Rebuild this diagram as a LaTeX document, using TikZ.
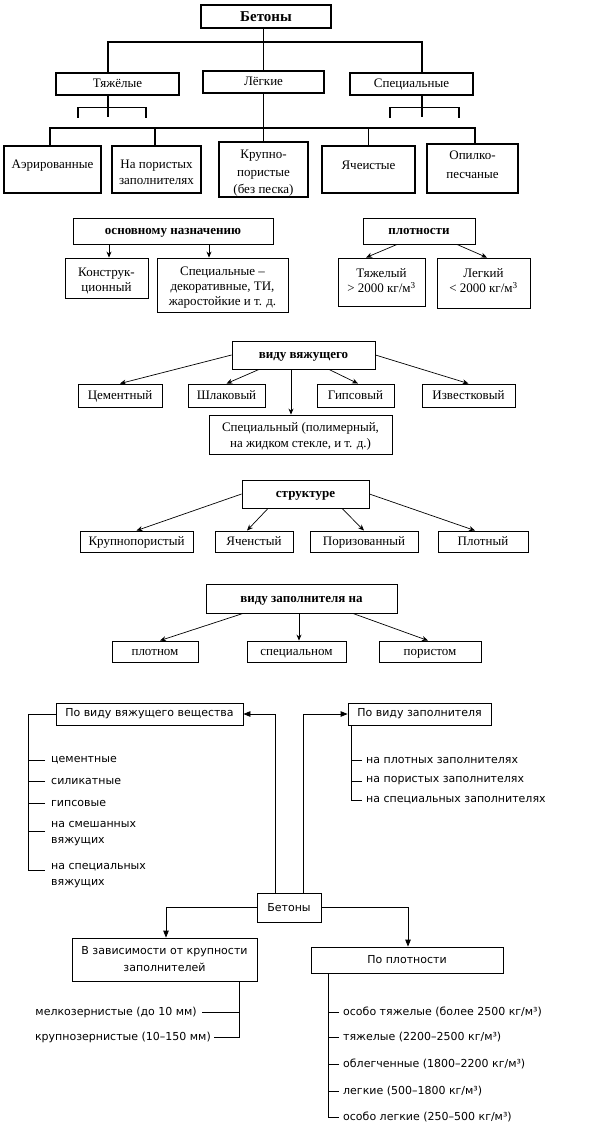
\documentclass[tikz,border=0pt]{standalone}
\usepackage{fontspec}
\setmainfont{Liberation Serif}
\newfontfamily\gost{DejaVu Sans}
\usetikzlibrary{arrows.meta}
\tikzset{
  box/.style={draw, line width=0.9pt, inner sep=0pt, align=center, font=\fontsize{13}{15}\selectfont},
  tbox/.style={draw, line width=1.1pt, inner sep=0pt},
  one/.style={text height=7.5pt, text depth=0pt},
  txt/.style={inner sep=0pt, align=center, font=\fontsize{13}{17}\selectfont},
  hbox/.style={box, font=\bfseries\fontsize{13}{15}\selectfont},
  gbox/.style={draw, line width=0.8pt, inner sep=0pt, align=center, font=\gost\fontsize{11}{17}\selectfont},
  item/.style={inner sep=0pt, align=left, font=\gost\fontsize{11}{16}\selectfont},
  ln/.style={line width=1.1pt},
  gln/.style={line width=0.8pt},
  arr/.style={line width=0.7pt, -{Stealth[length=6pt,width=5pt]}},
  garr/.style={line width=0.8pt, -{Triangle[length=7pt,width=5.5pt]}},
}
\begin{document}
\begin{tikzpicture}[x=1pt,y=-1pt]
\fill[white] (0,0) rectangle (598,1130);
\useasboundingbox (0,0) rectangle (598,1130);

% ---------- section 1 ----------
\node[tbox, font=\bfseries\fontsize{15}{17}\selectfont, text height=10pt, text depth=0pt, minimum width=130pt, minimum height=23pt] (b0) at (266,16.5) {Бетоны};
\node[tbox, one, font=\fontsize{13}{15}\selectfont, minimum width=123pt, minimum height=22pt] (t1) at (117.5,84) {Тяжёлые};
\node[tbox, one, font=\fontsize{13}{15}\selectfont, minimum width=121pt, minimum height=22pt] (t2) at (263.5,82) {Лёгкие};
\node[tbox, one, font=\fontsize{13}{15}\selectfont, minimum width=123pt, minimum height=22pt] (t3) at (411.5,84) {Специальные};

\node[tbox, minimum width=97pt, minimum height=47pt] (k1) at (52.5,169.5) {};
\node[tbox, minimum width=89pt, minimum height=47pt] (k2) at (156.5,169.5) {};
\node[tbox, minimum width=89pt, minimum height=55pt] (k3) at (263.5,169.5) {};
\node[tbox, minimum width=93pt, minimum height=47pt] (k4) at (368.5,169.5) {};
\node[tbox, minimum width=91pt, minimum height=49pt] (k5) at (472.5,168.5) {};
\node[txt, one] (k1t) at (52.5,164.5) {Аэрированные};
\node[txt, font=\fontsize{13}{16}\selectfont] (k2t) at (156.5,172) {На пористых\\заполнителях};
\node[txt, font=\fontsize{13}{17.5}\selectfont] (k3t) at (263.5,173.5) {Крупно-\\пористые\\(без песка)};
\node[txt, one] (k4t) at (368.5,166) {Ячеистые};
\node[txt, font=\fontsize{13}{19}\selectfont] (k5t) at (472.5,164.5) {Опилко-\\песчаные};

\coordinate (h1) at (0,42);
\coordinate (h2) at (0,128);
\draw[ln] (b0.south -| t2.north) -- (t2.north);
\draw[ln] ([xshift=-9.5pt]t1.north) |- ([xshift=10.5pt]t3.north |- h1) -- ([xshift=10.5pt]t3.north);
% brackets
\draw[ln] ([xshift=-9.5pt]t1.south) -- ++(0,21);
\draw[ln] ([xshift=-39.5pt]t1.south) ++(0,22) -- ++(0,-10) -- ++(68,0) -- ++(0,10);
\draw[ln] ([xshift=10.5pt]t3.south) -- ++(0,21);
\draw[ln] ([xshift=-21.5pt]t3.south) ++(0,22) -- ++(0,-10) -- ++(69,0) -- ++(0,10);
% light concretes
\draw[ln] (t2.south) -- (k3.north);
\draw[ln] ([xshift=-2.5pt]k1.north) |- ([xshift=2.5pt]k5.north |- h2) -- ([xshift=2.5pt]k5.north);
\draw[ln] ([xshift=-1.5pt]k2.north) -- ([xshift=-1.5pt]k2.north |- h2);
\draw[ln] (k4.north) -- (k4.north |- h2);

% ---------- section 2 ----------
\node[hbox, one, minimum width=200pt, minimum height=26pt] (n1) at (173,231) {основному назначению};
\node[box, minimum width=83pt, minimum height=40pt] (n2) at (106.5,278) {};
\node[txt, font=\fontsize{13}{15}\selectfont] (n2t) at (106.5,280.5) {Конструк-\\ционный};
\node[box, minimum width=131pt, minimum height=54pt] (n3) at (222.5,285) {};
\node[txt, font=\fontsize{13}{15}\selectfont] (n3t) at (222.5,288) {Специальные –\\декоративные, ТИ,\\жаростойкие и т. д.};
\draw[arr] ([xshift=2.5pt]n2.north |- n1.south) -- ([xshift=2.5pt]n2.north);
\draw[arr] ([xshift=-13.5pt]n3.north |- n1.south) -- ([xshift=-13.5pt]n3.north);

\node[hbox, one, minimum width=112pt, minimum height=26pt] (p1) at (419,231) {плотности};
\node[box, minimum width=87pt, minimum height=48pt] (p2) at (381.5,282) {};
\node[txt, font=\fontsize{13}{15}\selectfont] (p2t) at (381.5,280.5) {Тяжелый\\> 2000 кг/м\textsuperscript{3}};
\node[box, minimum width=93pt, minimum height=50pt] (p3) at (483.5,283) {};
\node[txt, font=\fontsize{13}{15}\selectfont] (p3t) at (483.5,281) {Легкий\\< 2000 кг/м\textsuperscript{3}};
\draw[arr] ([xshift=-22pt]p1.south) -- ([xshift=-15.5pt]p2.north);
\draw[arr] ([xshift=38pt]p1.south) -- ([xshift=3.5pt]p3.north);

% ---------- section 3 ----------
\node[hbox, one, minimum width=143pt, minimum height=28pt] (v0) at (303.5,355) {виду вяжущего};
\node[box, one, minimum width=84pt, minimum height=23pt] (v1) at (120,395.5) {Цементный};
\node[box, one, minimum width=77pt, minimum height=23pt] (v2) at (226.5,395.5) {Шлаковый};
\node[box, one, minimum width=77pt, minimum height=23pt] (v3) at (355.5,395.5) {Гипсовый};
\node[box, one, minimum width=93pt, minimum height=23pt] (v4) at (468.5,395.5) {Известковый};
\node[box, minimum width=183pt, minimum height=39pt] (v5) at (300.5,434.5) {};
\node[txt, font=\fontsize{13}{16}\selectfont] (v5t) at (300.5,436.5) {Специальный (полимерный,\\на жидком стекле, и т. д.)};
\draw[arr] (v0.west) -- (v1.north);
\draw[arr] ([xshift=-44.5pt]v0.south) -- (v2.north);
\draw[arr] ([xshift=-12.5pt]v0.south) -- ([xshift=-9.5pt]v5.north);
\draw[arr] ([xshift=25.5pt]v0.south) -- ([xshift=2.5pt]v3.north);
\draw[arr] (v0.east) -- (v4.north);

% ---------- section 4 ----------
\node[hbox, one, minimum width=127pt, minimum height=28pt] (s0) at (305.5,494) {структуре};
\node[box, one, minimum width=113pt, minimum height=21pt] (s1) at (136.5,541.5) {Крупнопористый};
\node[box, one, minimum width=78pt, minimum height=21pt] (s2) at (254,541.5) {Яченстый};
\node[box, one, minimum width=108pt, minimum height=21pt] (s3) at (364,541.5) {Поризованный};
\node[box, one, minimum width=90pt, minimum height=21pt] (s4) at (483,541.5) {Плотный};
\draw[arr] (s0.west) -- (s1.north);
\draw[arr] ([xshift=-37.5pt]s0.south) -- ([xshift=-7pt]s2.north);
\draw[arr] ([xshift=36.5pt]s0.south) -- (s3.north);
\draw[arr] (s0.east) -- ([xshift=-8pt]s4.north);

% ---------- section 5 ----------
\node[hbox, one, minimum width=191pt, minimum height=29pt] (z0) at (301.5,598.5) {виду заполнителя на};
\node[box, one, minimum width=86pt, minimum height=21pt] (z1) at (155,651.5) {плотном};
\node[box, one, minimum width=99pt, minimum height=21pt] (z2) at (296.5,651.5) {специальном};
\node[box, one, minimum width=102pt, minimum height=21pt] (z3) at (430,651.5) {пористом};
\draw[arr] ([xshift=-58.5pt]z0.south) -- ([xshift=5pt]z1.north);
\draw[arr] ([xshift=-2.5pt]z0.south) -- ([xshift=2.5pt]z2.north);
\draw[arr] ([xshift=51.5pt]z0.south) -- ([xshift=-2pt]z3.north);

% ---------- section 6 ----------
\node[gbox, minimum width=187pt, minimum height=22pt] (g1) at (149.5,714) {По виду вяжущего вещества};
\node[gbox, minimum width=143pt, minimum height=22pt] (g2) at (419.5,714) {По виду заполнителя};
\node[gbox, minimum width=64pt, minimum height=29pt] (g0) at (289,907.5) {Бетоны};
\node[gbox, minimum width=185pt, minimum height=43pt] (g3) at (164.5,959.5) {В зависимости от крупности\\заполнителей};
\node[gbox, minimum width=192pt, minimum height=26pt] (g4) at (407,960) {По плотности};

\draw[garr] ([xshift=-14pt]g0.north) |- (g1.east);
\draw[garr] ([xshift=14pt]g0.north) |- (g2.west);
\draw[garr] (g0.west) -| ([xshift=1.5pt]g3.north);
\draw[garr] (g0.east) -| ([xshift=1pt]g4.north);

% left list
\node[item, anchor=west] (a1) at (51,760) {цементные};
\node[item, anchor=west] (a2) at (51,781) {силикатные};
\node[item, anchor=west] (a3) at (51,803) {гипсовые};
\node[item, anchor=west] (a4) at (51,834) {на смешанных\\вяжущих};
\node[item, anchor=west] (a5) at (51,876) {на специальных\\вяжущих};
\coordinate (sp1) at (28,870);
\draw[gln] (g1.west) -| (sp1) -- ([xshift=-6pt]a5.west |- sp1);
\foreach \i in {a1,a2,a3} \draw[gln] ([xshift=-6pt]\i.west) -- (\i.west -| sp1);
\draw[gln] ([xshift=-6pt,yshift=3pt]a4.west) -- ([yshift=3pt]a4.west -| sp1);

% right list (fillers)
\node[item, anchor=west] (c1) at (366,760) {на плотных заполнителях};
\node[item, anchor=west] (c2) at (366,781) {на пористых заполнителях};
\node[item, anchor=west] (c3) at (366,800) {на специальных заполнителях};
\coordinate (sp2) at ([xshift=-68.5pt]g2.south);
\draw[gln] (sp2) |- ([xshift=-4pt]c3.west);
\foreach \i in {c1,c2} \draw[gln] ([xshift=-4pt]\i.west) -- (\i.west -| sp2);

% size list
\node[item, anchor=east] (d1) at (197,1012) {мелкозернистые (до 10 мм)};
\node[item, anchor=east] (d2) at (211,1037) {крупнозернистые (10–150 мм)};
\coordinate (sp3) at ([xshift=74.5pt]g3.south);
\draw[gln] (sp3) |- ([xshift=3pt]d2.east);
\draw[gln] ([xshift=5pt]d1.east) -- (d1.east -| sp3);

% density list
\node[item, anchor=west] (e1) at (343,1012) {особо тяжелые (более 2500 кг/м³)};
\node[item, anchor=west] (e2) at (343,1037) {тяжелые (2200–2500 кг/м³)};
\node[item, anchor=west] (e3) at (343,1064) {облегченные (1800–2200 кг/м³)};
\node[item, anchor=west] (e4) at (343,1091) {легкие (500–1800 кг/м³)};
\node[item, anchor=west] (e5) at (343,1117) {особо легкие (250–500 кг/м³)};
\coordinate (sp4) at ([xshift=-79pt]g4.south);
\draw[gln] (sp4) |- ([xshift=-4pt]e5.west);
\foreach \i in {e1,e2,e3,e4} \draw[gln] ([xshift=-4pt]\i.west) -- (\i.west -| sp4);
\end{tikzpicture}
\end{document}
